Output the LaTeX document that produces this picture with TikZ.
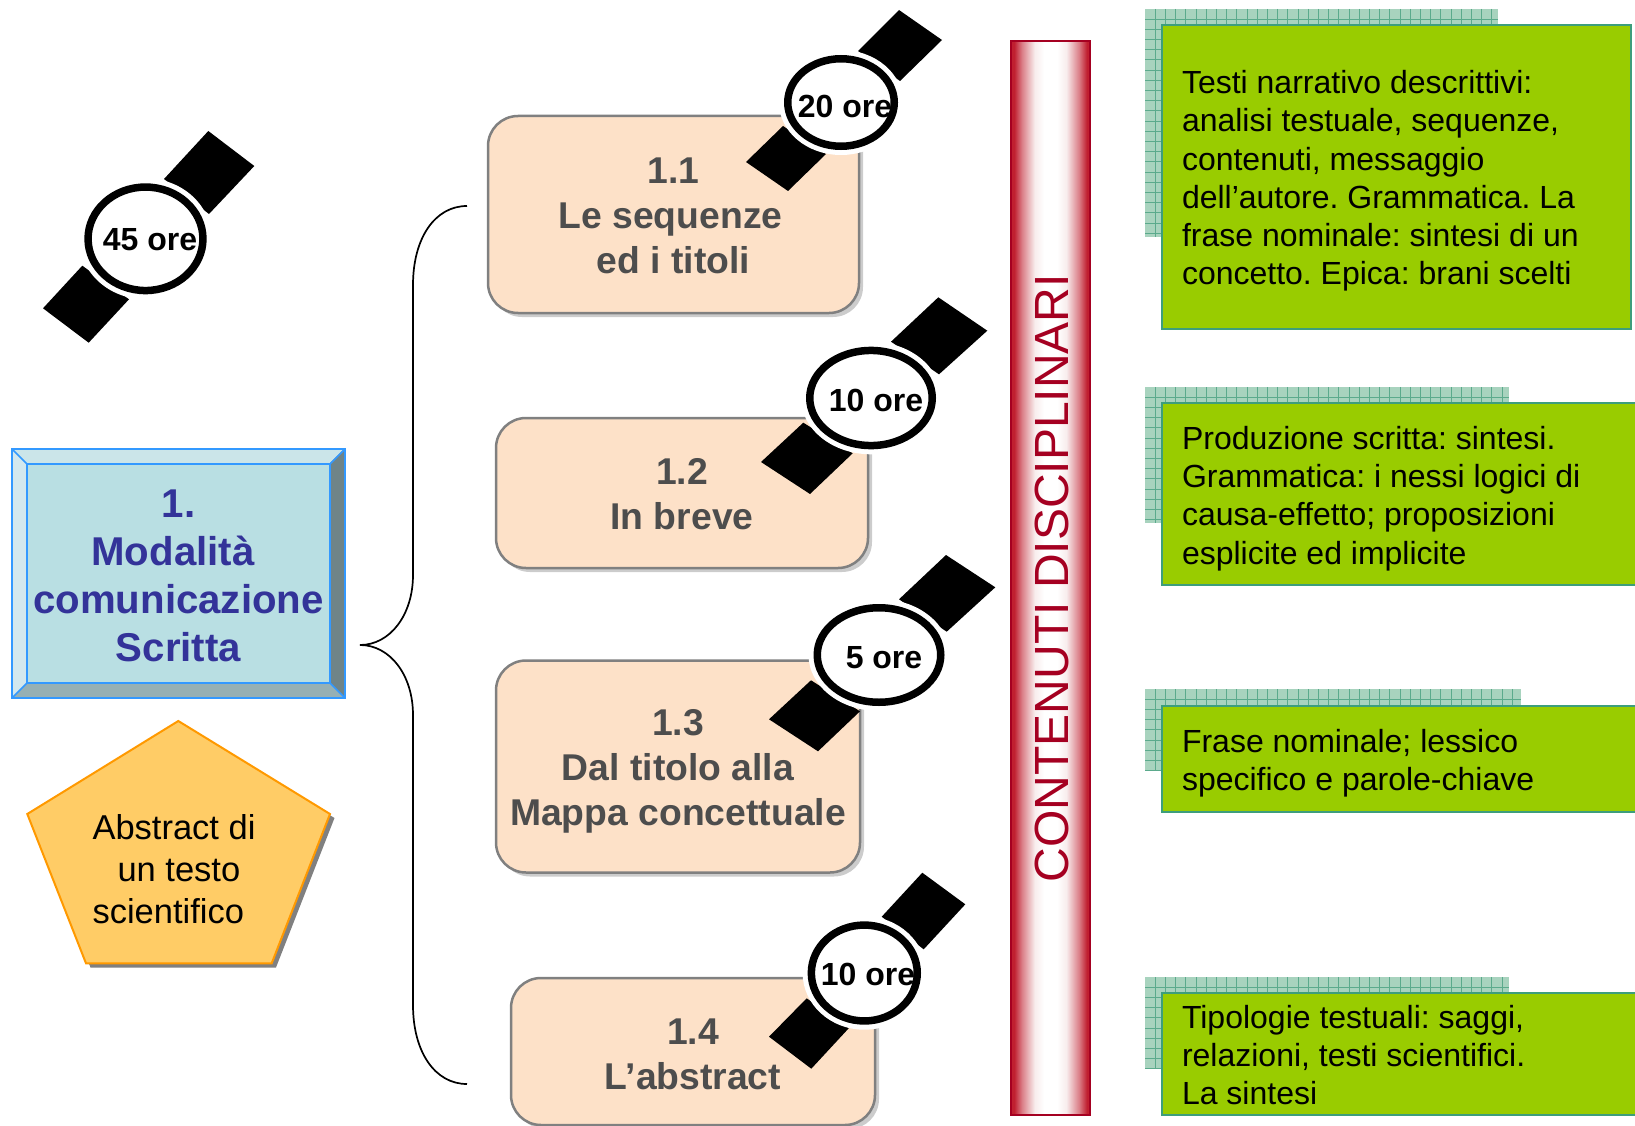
\documentclass[tikz,border=0pt]{standalone}
\usepackage{fontspec}
\setmainfont[Ligatures=NoCommon]{Liberation Sans}
\usetikzlibrary{shapes.geometric,shadows}
\definecolor{cNavy}{HTML}{333399}
\definecolor{cFace}{HTML}{B9DFE3}
\definecolor{cBevT}{HTML}{CBE5E9}
\definecolor{cBevL}{HTML}{D3E8EE}
\definecolor{cBevR}{HTML}{6F8488}
\definecolor{cBevB}{HTML}{96B0B4}
\definecolor{cBlueLine}{HTML}{3399FF}
\definecolor{cPeach}{HTML}{FDE1C8}
\definecolor{cGrayText}{HTML}{4D4D4D}
\definecolor{cGreen}{HTML}{99CC00}
\definecolor{cGreenLine}{HTML}{3D9E7C}
\definecolor{cMesh}{HTML}{A8D3BE}
\definecolor{cMeshLine}{HTML}{5BAA8C}
\definecolor{cBarRed}{HTML}{C01F30}
\definecolor{cBarMid}{HTML}{DB7F88}
\definecolor{cBarPale}{HTML}{F8EDED}
\definecolor{cBarLine}{HTML}{A50021}
\definecolor{cPent}{HTML}{FFCC66}
\definecolor{cPentLine}{HTML}{FF9900}
\pgfdeclarehorizontalshading{barshade}{100bp}{%
 color(0bp)=(cBarRed); color(27bp)=(cBarRed); color(32bp)=(cBarMid);
 color(40bp)=(cBarPale); color(46bp)=(white); color(54bp)=(white);
 color(60bp)=(cBarPale); color(68bp)=(cBarMid); color(73bp)=(cBarRed); color(100bp)=(cBarRed)}
\tikzset{
 topicbox/.style={draw=gray,line width=2.5pt,fill=cPeach,rounded corners=30pt,inner sep=0pt,
   drop shadow={shadow xshift=4pt,shadow yshift=-4pt,fill=black!20,opacity=1}},
 strap/.style={fill=black},
 halo/.style={fill=white},
 dial/.style={ellipse,draw=black,fill=white,line width=7.5pt,inner sep=0pt},
 txt/.style={inner sep=0pt,outer sep=0pt},
 greenbox/.style={draw=cGreenLine,line width=2pt,fill=cGreen},
 meshline/.style={draw=cMeshLine,line width=1pt},
 bracket/.style={draw=black,line width=1.7pt},
}
% width, font size, line skip, alignment and series, lines
\newcommand\tlines[4]{\parbox[t]{#1}{\frenchspacing\fontsize{#2}{#3}\selectfont #4\par}}
\newcommand\mesh[4]{%
 \begin{scope}
 \clip (#1,#2) rectangle (#3,#4);
 \fill[cMesh] (#1,#2) rectangle (#3,#4);
 \foreach \k in {1,...,40}{
  \draw[meshline] ({#1+\k*10.2},#2) -- ({#1+\k*10.2},#4);
  \draw[meshline] (#1,{#2+\k*10.2}) -- (#3,{#2+\k*10.2});
 }
 \end{scope}}
% name, cx, cy, rx, ry, text x, baseline, text
\newcommand\dialface[8]{%
 \path[halo] (#2,#3) ellipse [x radius=#4+5,y radius=#5+5];
 \node[dial,minimum width={(2*#4-7.5)*1pt},minimum height={(2*#5-7.5)*1pt}] (#1) at (#2,#3) {};
 \node[txt,anchor=base] (#1t) at (#6,#7) {\fontsize{32}{36}\selectfont\bfseries #8};}
\begin{document}
\begin{tikzpicture}[x=1pt,y=-1pt]
\useasboundingbox (0,0) rectangle (1635,1126);
\clip (0,0) rectangle (1635,1126);
% main bevelled box
\fill[cFace] (12,448) rectangle (345,698);
\fill[cBevT] (12,448) -- (345,448) -- (330,463) -- (27,463) -- cycle;
\fill[cBevL] (12,448) -- (27,463) -- (27,683) -- (12,698) -- cycle;
\fill[cBevR] (345,448) -- (330,463) -- (330,683) -- (345,698) -- cycle;
\fill[cBevB] (12,698) -- (27,683) -- (330,683) -- (345,698) -- cycle;
\draw[cBlueLine,line width=1.6pt] (12,449) rectangle (345,698) (27,464) rectangle (330,683)
  (12,449) -- (27,464) (345,449) -- (330,464) (12,698) -- (27,683) (345,698) -- (330,683);
\node[txt,anchor=base,text=cNavy] (main) at (178.5,517.5) {\tlines{330pt}{40.2}{48}{\centering\bfseries 1.\\Modalità\kern11pt\mbox{}\\comunicazione\\Scritta}};
% pentagon
\fill[gray] (182.5,725) -- (334.5,818) -- (276,967.5) -- (90.5,967.5) -- (31.5,818) -- cycle;
\draw[cPentLine,fill=cPent,line width=2pt,line join=miter] (178.3,721) -- (330,814) -- (271.7,963.3) -- (86,963.3) -- (27.3,814) -- cycle;
\node[txt,anchor=base west] (pent) at (92.5,839.3) {\tlines{200pt}{34.5}{42}{\raggedright Abstract di\\\hspace*{25pt}un testo\\scientifico}};
% topic boxes
\node[topicbox,minimum width=371pt,minimum height=197pt] (b1) at (673.5,214.5) {};
\node[topicbox,minimum width=372pt,minimum height=150pt] (b2) at (682,493) {};
\node[topicbox,minimum width=364pt,minimum height=212pt] (b3) at (678,766.5) {};
\node[topicbox,minimum width=364pt,minimum height=147pt] (b4) at (693,1051.5) {};
\node[txt,anchor=base,text=cGrayText] (t1) at (673.5,183.5) {\tlines{360pt}{37.3}{45}{\centering\bfseries 1.1\\Le sequenze\kern6pt\mbox{}\\ed i titoli}};
\node[txt,anchor=base,text=cGrayText] (t2) at (682,484) {\tlines{360pt}{37.3}{45}{\centering\bfseries 1.2\\In breve}};
\node[txt,anchor=base,text=cGrayText] (t3) at (678,735) {\tlines{360pt}{37.3}{45}{\centering\bfseries 1.3\\Dal titolo alla\\Mappa concettuale}};
\node[txt,anchor=base,text=cGrayText] (t4) at (693,1044) {\tlines{360pt}{37.3}{45}{\centering\bfseries 1.4\\L’abstract}};
% curly bracket
\coordinate (brTop) at (467,206);
\coordinate (brTip) at (360,645);
\coordinate (brBot) at (467,1084);
\draw[bracket] (brTop) .. controls (435,206) and (413,238) .. (413,285) -- (413,575)
  .. controls (413,615) and (390,645) .. (brTip)
  .. controls (390,645) and (413,675) .. (413,715) -- (413,1005)
  .. controls (413,1052) and (435,1084) .. (brBot);
% watches
\fill[strap] (208.3,131) -- (254.3,166) -- (209,214) -- (164,179) -- cycle;
\fill[strap] (43,308.3) -- (88.7,342.7) -- (129,299.3) -- (82.3,265.7) -- cycle;
\dialface{w45}{145.5}{238.8}{61.2}{55.5}{150}{250}{45 ore}
\fill[strap] (899,10) -- (942,40) -- (900,81) -- (858,51) -- cycle;
\fill[strap] (746,162) -- (788,191) -- (826,154) -- (783,126) -- cycle;
\dialface{w20}{841}{102.5}{57}{47.5}{845}{118}{20 ore}
\fill[strap] (938.3,297.3) -- (987.3,330.7) -- (939,374.3) -- (891,341.7) -- cycle;
\fill[strap] (761,462) -- (810,494) -- (852.7,453.3) -- (803.3,422.7) -- cycle;
\dialface{w10a}{871}{398}{65}{51.3}{876}{411.7}{10 ore}
\fill[strap] (946,555) -- (995.3,587.3) -- (946.7,631.7) -- (899,599.3) -- cycle;
\fill[strap] (769,719.3) -- (818,751.3) -- (860,711.3) -- (811,680.3) -- cycle;
\dialface{w5}{879}{655}{65.5}{51}{884}{668}{5 ore}
\fill[strap] (922.3,872.7) -- (965.3,904.3) -- (923.7,949.3) -- (881.7,916.7) -- cycle;
\fill[strap] (769,1036.7) -- (811.3,1068.7) -- (848.7,1028.3) -- (806.7,998.3) -- cycle;
\dialface{w10b}{864.3}{973}{56.7}{51.7}{868}{985.7}{10 ore}
% red bar
\shade[shading=barshade,draw=cBarLine,line width=1.6pt] (1011,41) rectangle (1090,1115);
\node[txt,anchor=base,rotate=90,text=cBarLine] (bar) at (1068,578) {\fontsize{48}{54}\selectfont CONTENUTI DISCIPLINARI};
% green panels
\mesh{1145}{9}{1498}{237}
\draw[greenbox] (1162,25) rectangle (1631,329);
\node[txt,anchor=base west] (g1) at (1182,93.7) {\tlines{445pt}{32}{38.2}{\raggedright Testi narrativo descrittivi:\\analisi testuale, sequenze,\\contenuti, messaggio\\dell’autore. Grammatica. La\\frase nominale: sintesi di un\\concetto. Epica: brani scelti}};
\mesh{1145}{387}{1509}{523}
\draw[greenbox] (1162,403) rectangle (1645,585);
\node[txt,anchor=base west] (g2) at (1182,449.5) {\tlines{445pt}{32}{38.2}{\raggedright Produzione scritta: sintesi.\\Grammatica: i nessi logici di\\causa-effetto; proposizioni\\esplicite ed implicite}};
\mesh{1145}{689}{1521}{770}
\draw[greenbox] (1162,706) rectangle (1645,812);
\node[txt,anchor=base west] (g3) at (1182,752) {\tlines{445pt}{32}{38.2}{\raggedright Frase nominale; lessico\\specifico e parole-chiave}};
\mesh{1145}{977}{1509}{1069}
\draw[greenbox] (1162,993) rectangle (1645,1115);
\node[txt,anchor=base west] (g4) at (1182,1028.5) {\tlines{445pt}{32}{38.2}{\raggedright Tipologie testuali: saggi,\\relazioni, testi scientifici.\\La sintesi}};
\end{tikzpicture}
\end{document}
